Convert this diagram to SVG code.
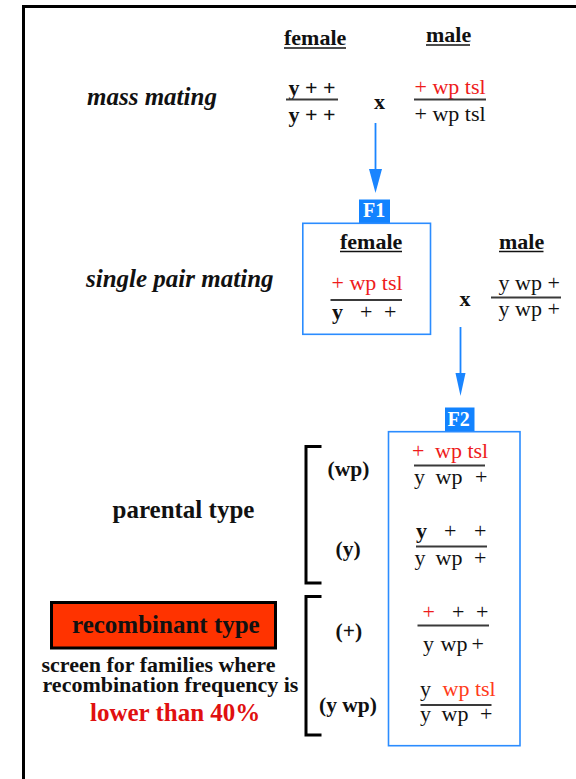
<svg xmlns="http://www.w3.org/2000/svg" width="576" height="779" viewBox="0 0 576 779">
<style>
text{font-family:"Liberation Serif","Times New Roman",serif;fill:#111;font-size:22px}
.b{font-weight:bold}
.bi{font-weight:bold;font-style:italic;font-size:25px}
.r{fill:#ee1c1c}
.o{fill:#ff3b1a}
.frac{stroke:#3a3a3a;stroke-width:2}
.ul{stroke:#111;stroke-width:1.5}
.box{fill:none;stroke:#2b8cff;stroke-width:1.6}
.lab{fill:#1283ff}
.labt{fill:#fff;font-weight:bold;font-size:20px}
.br{fill:none;stroke:#000;stroke-width:3}
.arrow{stroke:#1a85ff;stroke-width:1.8;fill:none}
.head{fill:#1a85ff}
</style>
<path d="M23.5,779 V6.5 H576" fill="none" stroke="#000" stroke-width="3"/>

<g id="mass-mating">
<text class="bi" x="87" y="105">mass mating</text>
</g>
<g id="p-female">
<text class="b" x="284" y="45">female</text>
<line class="ul" x1="284" y1="48" x2="346" y2="48"/>
<text class="b" x="288.5" y="95">y + +</text>
<line class="frac" x1="286" y1="99.5" x2="338" y2="99.5"/>
<text class="b" x="288.5" y="121.5">y + +</text>
</g>
<g id="p-cross"><text class="b" x="374" y="108.5">x</text></g>
<g id="p-male">
<text class="b" x="426" y="42">male</text>
<line class="ul" x1="426" y1="45" x2="470" y2="45"/>
<text class="r" x="414.5" y="93.5">+ wp tsl</text>
<line class="frac" x1="414" y1="99.5" x2="486" y2="99.5"/>
<text x="414.5" y="120.5">+ wp tsl</text>
</g>

<g id="single-pair">
<text class="bi" x="86" y="286.5">single pair mating</text>
</g>
<g id="f1-label">
<rect class="lab" x="359" y="199.5" width="31" height="23.5"/>
<text class="labt" x="363" y="217">F1</text>
</g>
<g id="f1-female">
<rect class="box" x="302.8" y="223.3" width="127.7" height="111"/>
<text class="b" x="340" y="248.5">female</text>
<line class="ul" x1="340" y1="251.5" x2="402" y2="251.5"/>
<text class="r" x="331.5" y="290">+ wp tsl</text>
<line class="frac" x1="330.5" y1="300" x2="402" y2="300"/>
<text x="332" y="318.5"><tspan class="b">y</tspan><tspan x="360">+</tspan><tspan x="384">+</tspan></text>
</g>
<g id="f1-cross"><text class="b" x="459.5" y="306">x</text></g>
<g id="f1-male">
<text class="b" x="499" y="248.5">male</text>
<line class="ul" x1="499" y1="251.5" x2="543.5" y2="251.5"/>
<text x="498.5" y="290">y wp +</text>
<line class="frac" x1="491" y1="297.5" x2="561" y2="297.5"/>
<text x="498.5" y="315.5">y wp +</text>
</g>

<g id="f2-label">
<rect class="lab" x="445" y="407.5" width="29.5" height="24"/>
<text class="labt" x="447.5" y="425.5">F2</text>
</g>
<g id="f2-box">
<rect class="box" x="388.5" y="431.7" width="131.5" height="314"/>
</g>
<g id="f2-wp">
<text class="r" x="412" y="457.5">+<tspan x="435">wp tsl</tspan></text>
<line class="frac" x1="414" y1="465.5" x2="485" y2="465.5"/>
<text x="414" y="483.5">y<tspan x="435.5">wp</tspan><tspan x="475">+</tspan></text>
</g>
<g id="f2-y">
<text x="416" y="537.5"><tspan class="b">y</tspan><tspan x="444">+</tspan><tspan x="474">+</tspan></text>
<line class="frac" x1="416" y1="546.5" x2="487" y2="546.5"/>
<text x="414.5" y="564.5">y<tspan x="435.5">wp</tspan><tspan x="474">+</tspan></text>
</g>
<g id="f2-plus">
<text x="422.5" y="619"><tspan class="r">+</tspan><tspan x="452">+</tspan><tspan x="476">+</tspan></text>
<line class="frac" x1="417.5" y1="625.5" x2="489" y2="625.5"/>
<text x="423" y="650.5">y<tspan x="440.5">wp</tspan><tspan x="471.5">+</tspan></text>
</g>
<g id="f2-ywp">
<text x="420" y="695.5">y<tspan class="o" x="442.5">wp tsl</tspan></text>
<line class="frac" x1="420.5" y1="705" x2="491.5" y2="705"/>
<text x="420" y="721">y<tspan x="441.5">wp</tspan><tspan x="480">+</tspan></text>
</g>

<g id="parental-bracket">
<path class="br" d="M321.5,446.5 H306 V583 H321.5"/>
<text class="b" x="327.5" y="476" style="font-size:21.5px">(wp)</text>
<text class="b" x="335.5" y="555.5" style="font-size:21.5px">(y)</text>
</g>
<g id="recombinant-bracket">
<path class="br" d="M321.5,596.5 H306 V735 H321.5"/>
<text class="b" x="335.5" y="637.5" style="font-size:21.5px">(+)</text>
<text class="b" x="319" y="711.5" style="font-size:21.5px">(y wp)</text>
</g>
<g id="parental-type">
<text class="b" x="112.5" y="517.5" style="font-size:25px">parental type</text>
</g>
<g id="recombinant-type">
<rect x="51.5" y="602.5" width="224" height="45.5" fill="#ff3300" stroke="#000" stroke-width="3"/>
<text class="b" x="72" y="632.5" style="font-size:25px">recombinant type</text>
</g>
<g id="screen-note">
<text class="b" x="41.5" y="671.5">screen for families where</text>
<text class="b" x="42.5" y="691.5">recombination frequency is</text>
<text class="b" x="90" y="721" style="font-size:25px;fill:#e01010">lower than 40%</text>
</g>

<g id="connectors">
<line class="arrow" x1="375.5" y1="123" x2="375.5" y2="172"/>
<polygon class="head" points="369,169 382,169 375.5,193"/>
<line class="arrow" x1="460.5" y1="327" x2="460.5" y2="376"/>
<polygon class="head" points="455.5,373 465.5,373 460.5,396"/>
</g>
</svg>
